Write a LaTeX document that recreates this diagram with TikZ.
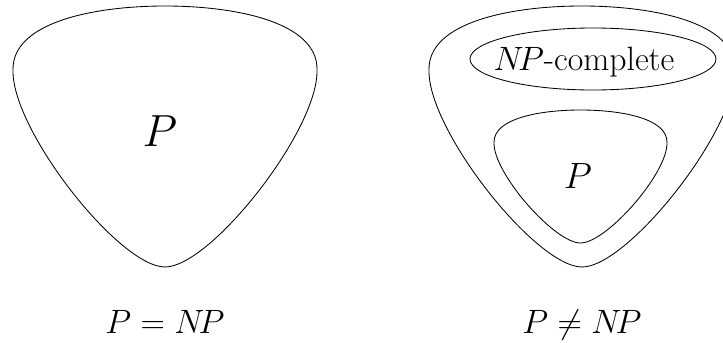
\RequirePackage{fix-cm}
\documentclass[tikz,border=0pt]{standalone}
\newcommand\blobshape{(0,0) .. controls (-0.46,0) and (-1.007,0.061) .. (-1,0.245) .. controls (-1.01,0.475) and (-0.3,1) .. (0,1) .. controls (0.3,1) and (1.01,0.475) .. (1,0.245) .. controls (1.007,0.061) and (0.46,0) .. cycle}
\begin{document}
\begin{tikzpicture}[x={(0.025cm,0)},y={(0,-0.025cm)},
  outline/.style={draw=black,line width=0.6pt},
  bigP/.style={anchor=base,inner sep=0pt,font=\fontsize{32}{36}\selectfont},
  midP/.style={anchor=base,inner sep=0pt,font=\fontsize{26}{30}\selectfont},
  lbl/.style={anchor=base,inner sep=0pt,font=\fontsize{24}{29}\selectfont},
  npclbl/.style={anchor=base,inner sep=0pt,font=\fontsize{24}{28}\selectfont}]
\useasboundingbox (0,0) rectangle (723,342);
\clip (0,0) rectangle (723,342);
% left blob
\draw[outline,shift={(165,6)},xscale=152,yscale=261] \blobshape;
% right outer blob
\draw[outline,shift={(582,6)},xscale=153,yscale=261] \blobshape;
% right inner blob
\draw[outline,shift={(580.5,110)},xscale=86.5,yscale=133] \blobshape;
% NP-complete ellipse
\draw[outline] (593,59) ellipse [x radius=123, y radius=31];
\node[bigP] (pl) at (160,146) {$P$};
\node[midP] (pr) at (578,188) {$P$};
\node[npclbl] (npc) at (584,70) {$N\!P$-complete};
\node[lbl] (eq) at (165,333) {$P = N\!P$};
\node[lbl] (neq) at (582,333) {$P \neq N\!P$};
\end{tikzpicture}
\end{document}
